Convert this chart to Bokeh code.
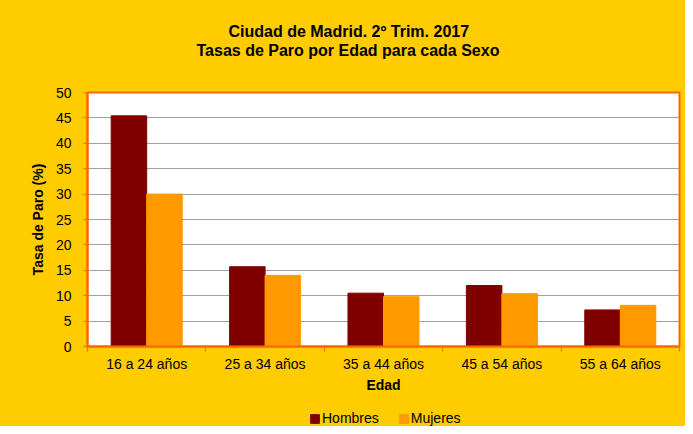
from bokeh.plotting import figure
from bokeh.models import Range1d, FixedTicker, ColumnDataSource, Legend, LegendItem, Title
from bokeh.layouts import column
from bokeh.transform import dodge
from bokeh.embed import file_html
from bokeh.resources import INLINE

# ---- data ----
categories = ["16 a 24 años", "25 a 34 años", "35 a 44 años", "45 a 54 años", "55 a 64 años"]
hombres = [45.4, 15.7, 10.5, 12.0, 7.2]
mujeres = [30.0, 14.0, 9.8, 10.4, 8.1]
series_names = ["Hombres", "Mujeres"]
y_ticks = [0, 5, 10, 15, 20, 25, 30, 35, 40, 45, 50]
title_line1 = "Ciudad de Madrid. 2º Trim. 2017"
title_line2 = "Tasas de Paro por Edad para cada Sexo"
x_title = "Edad"
y_title = "Tasa de Paro (%)"

FONT = "Liberation Sans"
YELLOW = "#FFCC00"
ORANGE = "#FF6600"
C_H = "#800000"
C_M = "#FF9900"
colors = [C_H, C_M]

W = 685
H_MAIN = 396
H_LEG = 30

n = len(categories)
centers = [i + 0.5 for i in range(n)]
src = ColumnDataSource(dict(x=centers, hombres=hombres, mujeres=mujeres))

p = figure(width=W, height=H_MAIN, output_backend="svg", toolbar_location=None,
           x_range=Range1d(0, n), y_range=Range1d(0, 50),
           min_border_left=87, min_border_right=6, min_border_top=92, min_border_bottom=50)
p.background_fill_color = "white"
p.border_fill_color = YELLOW
p.outline_line_color = ORANGE
p.outline_line_width = 2

r_h = p.vbar(x=dodge("x", -0.15, range=p.x_range), top="hombres", width=0.3, source=src,
             fill_color=C_H, line_color=C_H)
r_m = p.vbar(x=dodge("x", 0.15, range=p.x_range), top="mujeres", width=0.3, source=src,
             fill_color=C_M, line_color=C_M)

# title: two separately centred lines (+ an empty spacer next to the frame)
def style_title(t, offset, standoff):
    t.align = "left"
    t.offset = offset
    t.standoff = standoff
    t.text_font = FONT
    t.text_font_size = "16px"
    t.text_font_style = "bold"
    t.text_color = "#000000"

p.title.text = title_line1
style_title(p.title, 141, 0)
spacer = Title(text=" ")
style_title(spacer, 0, 15)
p.add_layout(spacer, "above")
t2 = Title(text=title_line2)
style_title(t2, 109, 0)
p.add_layout(t2, "above")

# grid
p.xgrid.visible = False
p.ygrid.ticker = FixedTicker(ticks=y_ticks)
p.ygrid.grid_line_color = "#A0A0A0"
p.ygrid.grid_line_width = 1

# y axis
ya = p.yaxis[0]
ya.ticker = FixedTicker(ticks=y_ticks, minor_ticks=[])
ya.axis_line_color = ORANGE
ya.axis_line_width = 2
ya.major_tick_line_color = ORANGE
ya.major_tick_out = 4
ya.major_tick_in = 0
ya.major_label_standoff = 12
ya.major_label_text_font = FONT
ya.major_label_text_font_size = "14px"
ya.major_label_text_color = "#000000"
ya.axis_label = y_title
ya.axis_label_text_font = FONT
ya.axis_label_text_font_size = "14px"
ya.axis_label_text_font_style = "bold"
ya.axis_label_text_color = "#000000"
ya.axis_label_standoff = 7

# x axis
xa = p.xaxis[0]
xa.ticker = FixedTicker(ticks=centers, minor_ticks=list(range(n + 1)))
xa.major_label_overrides = {c: lab for c, lab in zip(centers, categories)}
xa.axis_line_color = ORANGE
xa.axis_line_width = 2
xa.major_tick_line_color = None
xa.major_tick_out = 0
xa.major_tick_in = 0
xa.minor_tick_line_color = ORANGE
xa.minor_tick_out = 5
xa.minor_tick_in = 0
xa.major_label_standoff = 4
xa.major_label_text_font = FONT
xa.major_label_text_font_size = "14px"
xa.major_label_text_color = "#000000"
xa.axis_label = x_title
xa.axis_label_text_font = FONT
xa.axis_label_text_font_size = "14px"
xa.axis_label_text_font_style = "bold"
xa.axis_label_text_color = "#000000"
xa.axis_label_standoff = 2

# ---- legend strip (separate figure below the chart) ----
# same series drawn through this strip's scales, but outside its visible y window,
# so only the legend entries show
pl = figure(width=W, height=H_LEG, output_backend="svg", toolbar_location=None,
            x_range=Range1d(0, n), y_range=Range1d(1000, 1001),
            x_axis_type=None, y_axis_type=None, min_border=0)
pl.background_fill_color = YELLOW
pl.border_fill_color = YELLOW
pl.outline_line_color = None
pl.grid.visible = False
items = []
for name, field, col in zip(series_names, ["hombres", "mujeres"], colors):
    r = pl.vbar(x="x", top=field, width=0.3, source=src, fill_color=col, line_color=col)
    items.append(LegendItem(label=name, renderers=[r]))
legend = Legend(items=items, location=(222, 0), orientation="horizontal",
                glyph_width=11, glyph_height=11, label_height=12, label_standoff=2,
                spacing=19, padding=0, margin=0,
                label_text_font=FONT, label_text_font_size="14px", label_text_color="#000000",
                background_fill_alpha=0, border_line_color=None)
pl.add_layout(legend, "center")

layout = column(p, pl, spacing=0, styles={"background-color": YELLOW})
open("out.html", "w").write(file_html(layout, INLINE))
